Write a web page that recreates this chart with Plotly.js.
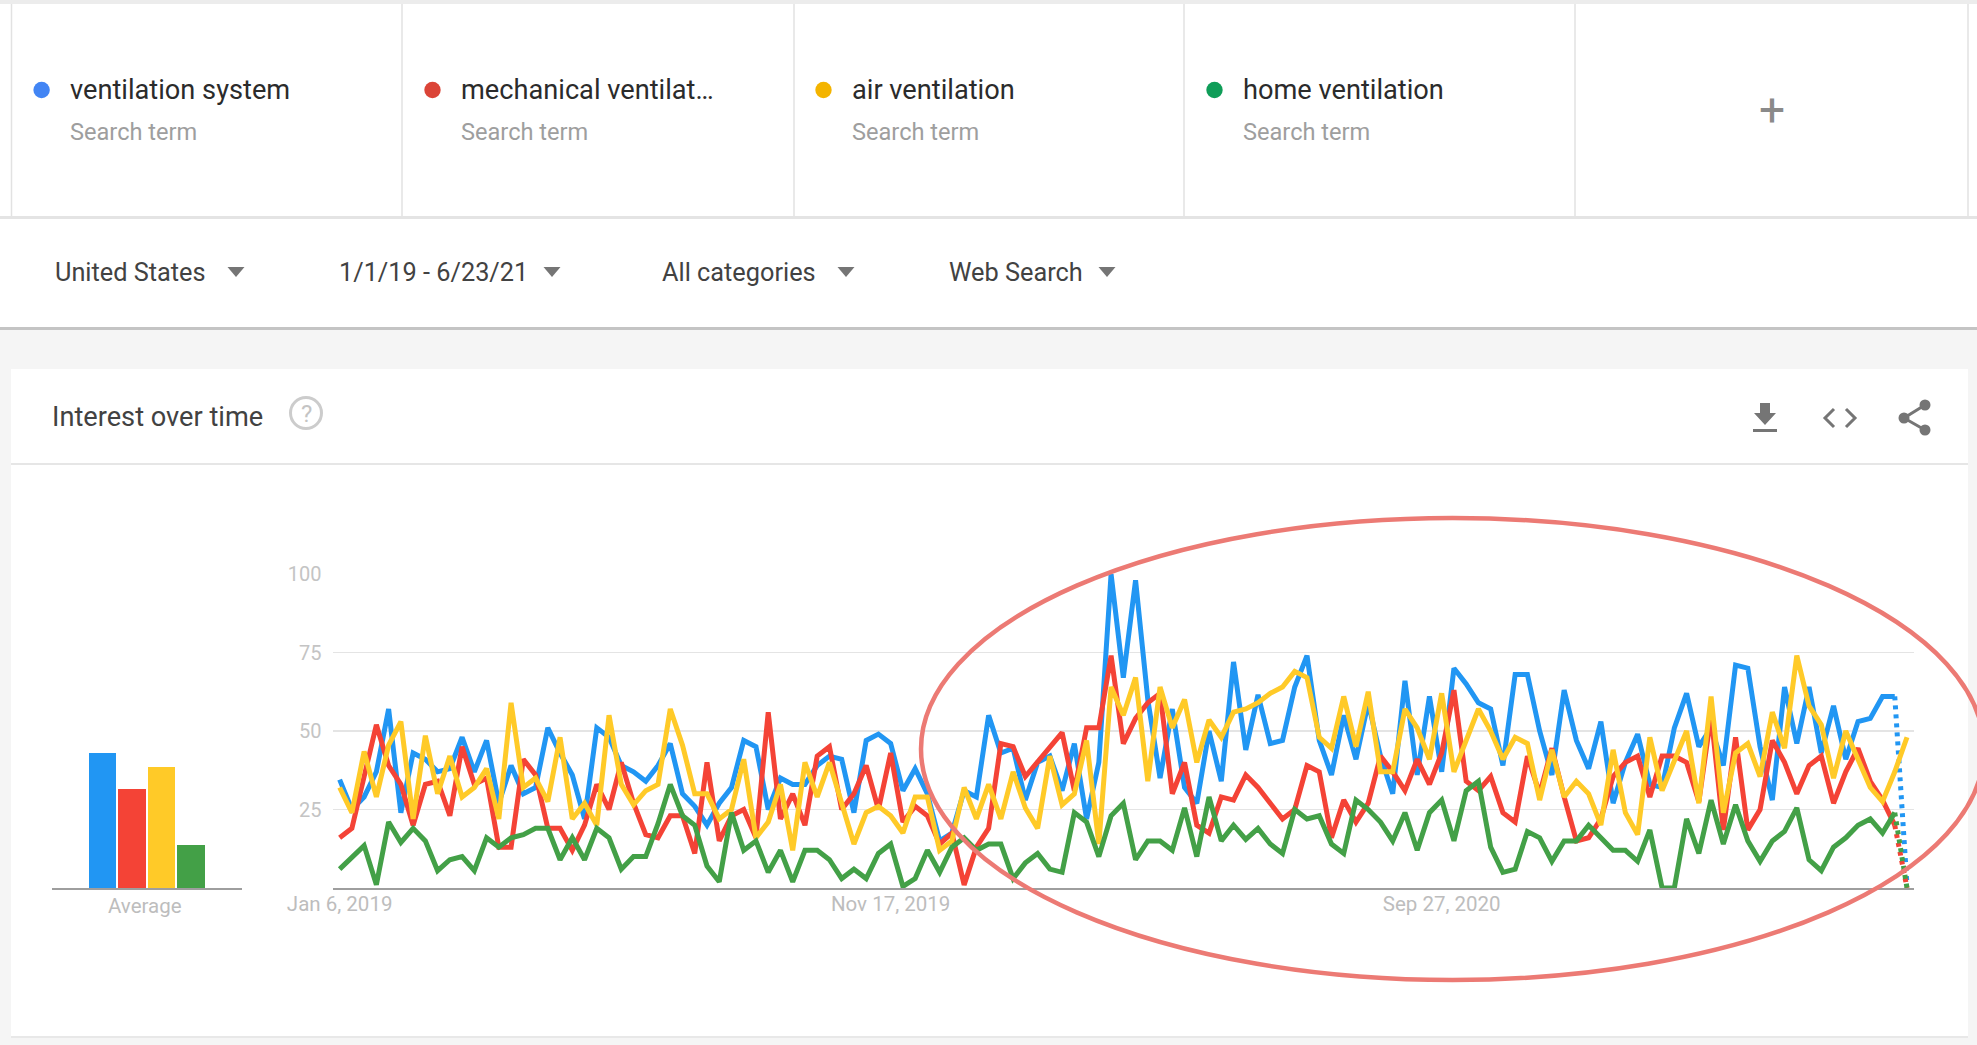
<!DOCTYPE html>
<html>
<head>
<meta charset="utf-8">
<title>Interest over time</title>
<script src="https://cdn.plot.ly/plotly-3.0.1.min.js"></script>
<style>
html,body{margin:0;padding:0;background:#f5f5f5;overflow:hidden}
#chart{width:1977px;height:1045px}
.js-plotly-plot .scatterlayer .js-line{stroke-linejoin:miter !important;stroke-miterlimit:2.2}
</style>
</head>
<body>
<div id="chart"></div>
<script>
var ventilationSystem=[34.5,25,29,37,57,24,43,41,37,38,48,37,47,27,39,30,32,51,43,36,22,51,48,39,37,34,39,46,30,26,20,27,32,47,45,25,35,33,33,39,42,41,24,47,49,46,31,38,30,15,17.5,31,29,55,43,44.5,28,40,42,31,46,22,40,100,67,98,60,35,57,32,27,50,34,72,44,61.5,46,47,64,74,47,36,55,41,59,42,30,66,36,61,37,70,65,59,57,39,68,68,50,36,63,47,38,53,27,40,49,33,32,51,62,45,51,39,71,70,45,28,64,46,64,43,58,41,53,54,61,61,1];
var mechanicalVentilation=[16,19,35.5,52,39,33,20,33,34,23,45,33,35,13,13,41,36,19,19,12,20,33,25,40,27,17,16,23,23,11,40,15,23,25,16,56,22,30,20,42,45,25,30,39,25,43,21,26,23,14,17.5,1,13,19,46,45,35.5,40,45,49.5,31,51,51,74,46,54,59,62,30,40,20,17.5,29,28,36,32,27,22,25,39,37,16,28,21,27,42,37,31,41,33,43,63,34,31,35.5,24,21,42,30,44.5,29,15,16,22,35.5,40,42,29,42,42,40,27.5,55,18.5,48,18.5,25,47,40,30,39,42,27,37,44.5,34,28,20,0];
var airVentilation=[32,24,43.5,29,45.5,53,22,48.5,30,42,29,32,38,22,59,32,35,27.5,48,22,27,20,55,33,26.5,31,33,57,45.5,30,30,22,25,41,16,21,33,12,40,29,40,27,14,24,26,23,17.5,29,29,12,15,32,22,33,22,37,25.5,19,42,26.5,30,47,14,64,55,67,34,64,51,60,40,53.5,48,56,57,59,62,64,69,67,48,44.5,61,45,62.5,37,37,57,51,41,62,37,47,57,50,41,48,46,28,44,29,34,30,20,44,24,17,48,31,41,50,27,61,24,43,46,35.5,56,44.5,74,58,52,35,50,41,32,27.5,37,48];
var homeVentilation=[6,9.5,13.5,1,21,14.5,19,15,5.5,9,10,5.5,16,13,16,17,19,19,9,16,9,19,16,6,10,10,20.5,33,23,20,7,2,24,12,15,5,12,2,12,12,9,3,6,3,11,14,0.5,3,12,5,13,16,12,14,14,3,8,11,6,5,24,21,10,23,27,9,15,15,12,25.5,10,29,15,20,15.5,19,14,11,25,22,23,14,11,28,25,21,15,24,12,24,28,15,31,34,13,5,6,18,16,8.5,15,15,20,16,12,12,8.5,18.5,0,0,22,11,28,14,26.5,15,8.5,15,18,25.5,9,5.5,13,16,20,22,17.5,24,0];
var averages=[43,31.5,38.5,13.7];
var termNames=["ventilation system","mechanical ventilat…","air ventilation","home ventilation"];
var lineColors=["#2196F3","#F44336","#FFCA28","#43A047"];
var dotColors=["#4285F4","#DB4437","#F4B400","#0F9D58"];
var partialLastWeek=[true,true,false,true];
var filterLabels=["United States","1/1/19 - 6/23/21","All categories","Web Search"];
var yTicks=[25,50,75,100];
var xTickVals=["2019-01-06","2019-11-17","2020-09-27"];
var xTickText=["Jan 6, 2019","Nov 17, 2019","Sep 27, 2020"];

var W=1977,H=1045,FONT="Roboto, sans-serif";
function X(p){return p/W}
function Y(p){return 1-p/H}
var weeks=[];
for(var i=0;i<ventilationSystem.length;i++){
  weeks.push(new Date(Date.UTC(2019,0,6+7*i)).toISOString().slice(0,10));
}
var seriesList=[ventilationSystem,mechanicalVentilation,airVentilation,homeVentilation];
var traces=[];
seriesList.forEach(function(s,k){
  var n=s.length,solidEnd=partialLastWeek[k]?n-1:n;
  traces.push({type:"scatter",mode:"lines",x:weeks.slice(0,solidEnd),y:s.slice(0,solidEnd),name:termNames[k],
    line:{color:lineColors[k],width:5,shape:"linear"},hoverinfo:"skip"});
  if(partialLastWeek[k]){
    traces.push({type:"scatter",mode:"lines",x:weeks.slice(n-2),y:s.slice(n-2),name:termNames[k],
      line:{color:lineColors[k],width:5,dash:"4px,5px"},hoverinfo:"skip"});
  }
});
traces.push({type:"bar",x:[0,1,2,3],y:averages,xaxis:"x2",yaxis:"y2",marker:{color:lineColors,line:{width:0}},
  width:0.94,hoverinfo:"skip"});

var shapes=[];
function rect(x0,y0,x1,y1,fill){shapes.push({type:"rect",xref:"paper",yref:"paper",x0:X(x0),x1:X(x1),y0:Y(y0),y1:Y(y1),
  fillcolor:fill,line:{width:0},layer:"below"});}
function vline(x,y0,y1,col,w){shapes.push({type:"line",xref:"paper",yref:"paper",x0:X(x),x1:X(x),y0:Y(y0),y1:Y(y1),
  line:{color:col,width:w},layer:"below"});}
function hline(y,x0,x1,col,w){shapes.push({type:"line",xref:"paper",yref:"paper",x0:X(x0),x1:X(x1),y0:Y(y),y1:Y(y),
  line:{color:col,width:w},layer:"below"});}
function circle(cx,cy,r,fill,stroke,w,layer){shapes.push({type:"circle",xref:"paper",yref:"paper",x0:X(cx-r),x1:X(cx+r),y0:Y(cy+r),y1:Y(cy-r),
  fillcolor:fill,line:{color:stroke||"rgba(0,0,0,0)",width:w||0},layer:layer||"below"});}
function path(pts,close,fill,stroke,w){
  var d=pts.map(function(p,i){return (i?"L":"M")+X(p[0])+","+Y(p[1])}).join(" ")+(close?" Z":"");
  shapes.push({type:"path",xref:"paper",yref:"paper",path:d,fillcolor:fill||"rgba(0,0,0,0)",
    line:{color:stroke||"rgba(0,0,0,0)",width:w||0},layer:"below"});
}
// page panels
rect(0,0,W,4,"#ececec");
rect(0,4,W,216,"#ffffff");
rect(0,216,W,219,"#e4e4e4");
rect(0,219,W,327,"#ffffff");
rect(0,327,W,330,"#c4c4c4");
rect(11,369,1968,1036,"#ffffff");
hline(1037,11,1968,"#e8e8e8",2);
hline(464,11,1968,"#e6e6e6",2);
[11.5,402,794,1184,1575,1968].forEach(function(x){vline(x,4,216,"#e2e2e2",1.5)});

var anns=[];
function text(t,x,y,size,col,anchor){anns.push({text:t,xref:"paper",yref:"paper",x:X(x),y:Y(y),xanchor:anchor||"left",yanchor:"middle",
  showarrow:false,font:{family:FONT,size:size,color:col},borderpad:0,borderwidth:0});}
var dotX=[41.6,432.5,823.5,1214.5];
termNames.forEach(function(t,k){
  circle(dotX[k],90,8.2,dotColors[k]);
  text(t,dotX[k]+28,90,27.2,"#2b2b2b");
  text("Search term",dotX[k]+28,132,23.6,"#9e9e9e");
});
text("+",1772,110,46,"#8a8a8a","center");
var filterX=[55,339,662,949],triX=[236,552,846,1107];
filterLabels.forEach(function(t,k){
  text(t,filterX[k],272,25.3,"#424242");
  path([[triX[k]-8.5,267],[triX[k]+8.5,267],[triX[k],277]],true,"#757575");
});
text("Interest over time",52,417,27.2,"#424242");
circle(306,413,15.5,"rgba(0,0,0,0)","#cccccc",3);
text("?",306,414,24,"#c4c4c4","center");
// toolbar icons
path([[1760,403],[1770,403],[1770,413],[1776,413],[1765,425],[1754,413],[1760,413]],true,"#757575");
rect(1753,429,1777,432,"#757575");
path([[1834,409],[1825,418],[1834,427]],false,null,"#757575",3);
path([[1846,409],[1855,418],[1846,427]],false,null,"#757575",3);
path([[1925,405],[1904,418],[1925,430]],false,null,"#757575",3);
circle(1925,405,5.5,"#757575");circle(1904,418,5.5,"#757575");circle(1925,430,5.5,"#757575");
text("Average",145,906,20.5,"#bdbdbd","center");
// highlight ellipse
shapes.push({type:"circle",xref:"paper",yref:"paper",x0:X(921),x1:X(1984),y0:Y(980),y1:Y(518),
  fillcolor:"rgba(0,0,0,0)",line:{color:"#EC7A74",width:4.5},layer:"above"});

var layout={
  width:W,height:H,margin:{l:0,r:0,t:0,b:0,pad:0},autosize:false,showlegend:false,
  paper_bgcolor:"#f5f5f5",plot_bgcolor:"rgba(0,0,0,0)",
  xaxis:{type:"date",domain:[X(332.5),X(1914)],range:["2019-01-01 22:00","2021-06-24"],anchor:"y",
    tickmode:"array",tickvals:xTickVals,ticktext:xTickText,showgrid:false,zeroline:false,
    showline:true,linecolor:"#9e9e9e",linewidth:1.6,ticks:"",ticklabelstandoff:-3,
    tickfont:{family:FONT,size:20.5,color:"#bdbdbd"}},
  yaxis:{domain:[Y(888),Y(574)],range:[0,100],anchor:"x",tickmode:"array",tickvals:yTicks,
    showgrid:true,gridcolor:"#e4e4e4",gridwidth:1.6,zeroline:false,showline:false,
    ticks:"outside",ticklen:6,tickcolor:"rgba(0,0,0,0)",tickfont:{family:FONT,size:20,color:"#c4c4c4"}},
  xaxis2:{domain:[X(52),X(242)],range:[-1.715,4.73],anchor:"y2",showgrid:false,zeroline:false,
    showticklabels:false,ticks:"",showline:true,linecolor:"#9e9e9e",linewidth:1.6},
  yaxis2:{domain:[Y(888),Y(574)],range:[0,100],anchor:"x2",showgrid:false,zeroline:false,showline:false,
    showticklabels:false,ticks:""},
  bargap:0,shapes:shapes,annotations:anns
};
Plotly.newPlot("chart",traces,layout,{displayModeBar:false,staticPlot:true});
</script>
</body>
</html>
